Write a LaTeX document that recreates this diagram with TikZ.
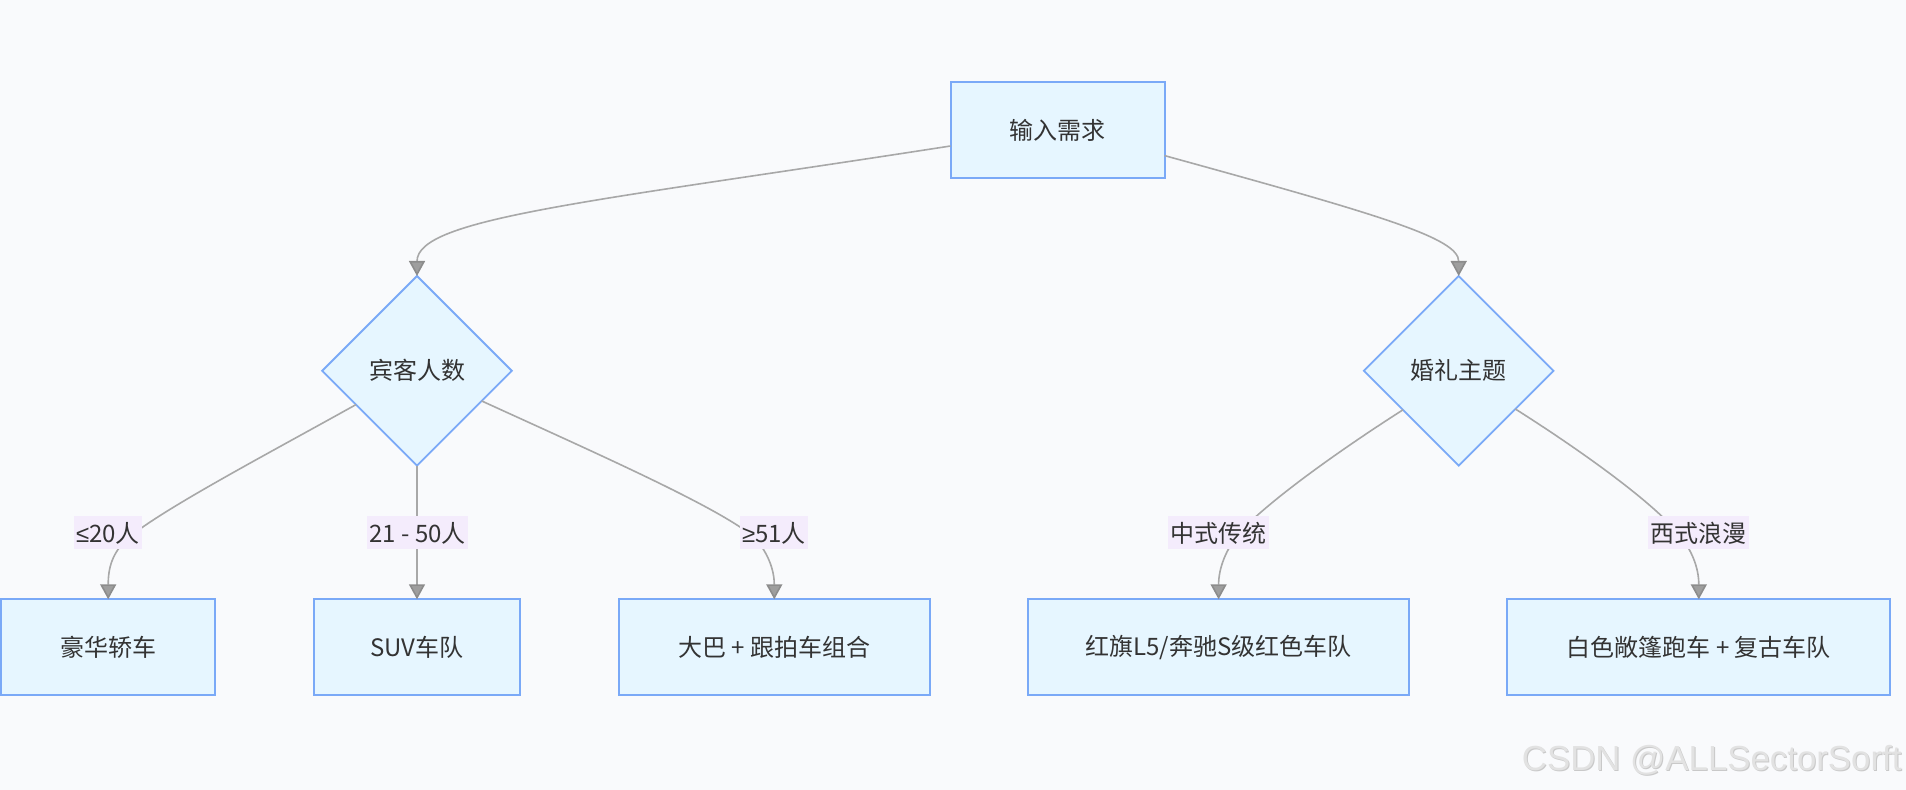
\documentclass[tikz,border=0pt]{standalone}
\usepackage{fontspec}
\setmainfont{Noto Sans CJK SC}
\newfontfamily\wmfont{Liberation Sans}
\newfontfamily\relfont{Liberation Sans}
\usetikzlibrary{shapes.geometric,arrows.meta}
\definecolor{pagebg}{HTML}{F9FAFC}
\definecolor{nodefill}{HTML}{E6F6FF}
\definecolor{nodeline}{HTML}{7AA9F7}
\definecolor{lblfill}{HTML}{F4ECFC}
\definecolor{edgecol}{HTML}{A8A8A8}
\definecolor{arrowfill}{HTML}{9E9E9E}
\definecolor{arrowdraw}{HTML}{8C8C8C}
\definecolor{txt}{HTML}{333333}
\definecolor{wmmain}{HTML}{E2E2E2}
\definecolor{wmshade}{HTML}{C9C9C9}
\begin{document}
\begin{tikzpicture}[x=0.5pt,y=-0.5pt,
  every node/.style={font=\fontsize{12pt}{16pt}\selectfont, text=txt},
  box/.style={draw=nodeline, fill=nodefill, line width=1pt, rectangle, inner sep=0pt, outer sep=0pt, minimum height=48pt},
  decision/.style={draw=nodeline, fill=nodefill, line width=0.9pt, diamond, aspect=1, inner sep=0pt, outer sep=0pt, minimum width=94.8pt, minimum height=94.8pt},
  elabel/.style={fill=lblfill, inner xsep=1.2pt, inner ysep=0pt, minimum height=16.5pt},
  conn/.style={draw=edgecol, line width=0.8pt, -{Triangle[length=7.5pt,width=8pt,color=arrowdraw,fill=arrowfill]}}
]
\useasboundingbox[fill=pagebg] (0,0) rectangle (1906,790);

% nodes
\node[box, minimum width=107pt] (top) at (1057.5,130) {输入需求};
\node[decision] (d1) at (417,370.8) {宾客人数};
\node[decision] (d2) at (1458.7,370.8) {婚礼主题};
\node[box, minimum width=107pt] (b1) at (108.2,647.3) {豪华轿车};
\node[box, minimum width=103.3pt] (b2) at (417,647.3) {SUV车队};
\node[box, minimum width=155.6pt] (b3) at (774.3,647.3) {大巴 + 跟拍车组合};
\node[box, minimum width=190.2pt] (b4) at (1218.6,647.3) {红旗L5/奔驰S级红色车队};
\node[box, minimum width=191.5pt] (b5) at (1698.8,647.3) {白色敞篷跑车 + 复古车队};

% connectors
\draw[conn] ([yshift=-8pt]top.west) .. controls (590,202) and (417,218) .. (d1.north);
\draw[conn] ([yshift=-12.8pt]top.east) .. controls (1380,215) and (1458.7,238) .. (d2.north);
\draw[conn] (d1.209) .. controls (260,458) and (165,508) .. (128,538) .. controls (112,553) and (108.2,568) .. (b1.north);
\draw[conn] (d1.south) -- (b2.north);
\draw[conn] (d1.335) .. controls (600,455) and (720,508) .. (755,538) .. controls (768,553) and (774.3,570) .. (b3.north);
\draw[conn] (d2.215) .. controls (1340,450) and (1270,500) .. (1240,532) .. controls (1226,549) and (1218.6,568) .. (b4.north);
\draw[conn] (d2.326) .. controls (1580,450) and (1650,500) .. (1678,533) .. controls (1692,550) and (1698.8,568) .. (b5.north);

% edge labels
\node[elabel] (l1) at (108,533) {{\relfont ≤}20人};
\node[elabel] (l2) at (417.5,533) {21 - 50人};
\node[elabel] (l3) at (774,533) {{\relfont ≥}51人};
\node[elabel] (l4) at (1218.6,533) {中式传统};
\node[elabel] (l5) at (1698.8,533) {西式浪漫};

% watermark
\node[anchor=base west, inner sep=0pt, text=wmshade, font=\wmfont\fontsize{17.4pt}{19pt}\selectfont] (wms) at (1522.5,771) {CSDN @ALLSectorSorft};
\node[anchor=base west, inner sep=0pt, text=wmmain, font=\wmfont\fontsize{17.4pt}{19pt}\selectfont] (wm) at (1521.5,770) {CSDN @ALLSectorSorft};
\end{tikzpicture}
\end{document}
